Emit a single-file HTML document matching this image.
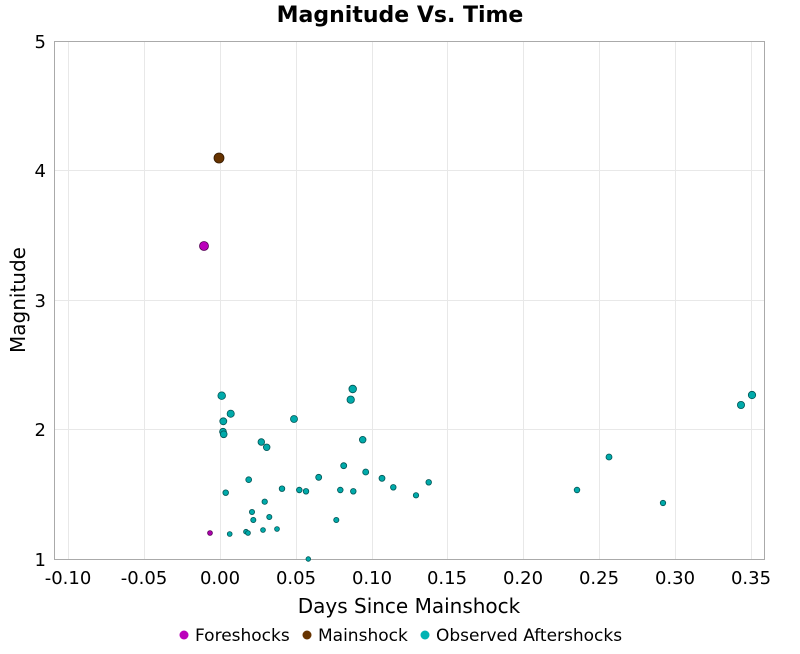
<!DOCTYPE html>
<html><head><meta charset="utf-8"><style>
body{margin:0;background:#fff;width:800px;height:650px;overflow:hidden;font-family:"DejaVu Sans","Liberation Sans",sans-serif}
</style></head><body>
<svg width="800" height="650" xmlns="http://www.w3.org/2000/svg" font-family="DejaVu Sans, Liberation Sans, sans-serif">
<text x="400" y="22" text-anchor="middle" font-size="22" font-weight="bold">Magnitude Vs. Time</text>
<g stroke="#e8e8e8" stroke-width="1">
<line x1="68.5" y1="41" x2="68.5" y2="559"/><line x1="144.5" y1="41" x2="144.5" y2="559"/>
<line x1="220.5" y1="41" x2="220.5" y2="559"/><line x1="296.5" y1="41" x2="296.5" y2="559"/>
<line x1="372.5" y1="41" x2="372.5" y2="559"/><line x1="447.5" y1="41" x2="447.5" y2="559"/>
<line x1="523.5" y1="41" x2="523.5" y2="559"/><line x1="599.5" y1="41" x2="599.5" y2="559"/>
<line x1="675.5" y1="41" x2="675.5" y2="559"/><line x1="751.5" y1="41" x2="751.5" y2="559"/>
<line x1="54" y1="429.5" x2="765" y2="429.5"/><line x1="54" y1="300.5" x2="765" y2="300.5"/>
<line x1="54" y1="170.5" x2="765" y2="170.5"/>
</g>
<rect x="54.5" y="41.5" width="710" height="518" fill="none" stroke="#aaa"/>
<g font-size="18" text-anchor="middle">
<text x="68" y="584">-0.10</text><text x="144" y="584">-0.05</text><text x="220" y="584">0.00</text>
<text x="296" y="584">0.05</text><text x="372" y="584">0.10</text><text x="447" y="584">0.15</text>
<text x="523" y="584">0.20</text><text x="599" y="584">0.25</text><text x="675" y="584">0.30</text>
<text x="751" y="584">0.35</text>
</g>
<g font-size="18" text-anchor="end">
<text x="46" y="566">1</text><text x="46" y="436">2</text><text x="46" y="307">3</text>
<text x="46" y="177">4</text><text x="46" y="48">5</text>
</g>
<text x="409" y="613" text-anchor="middle" font-size="20">Days Since Mainshock</text>
<text transform="translate(25,300) rotate(-90)" text-anchor="middle" font-size="20">Magnitude</text>
<g fill="#00aaaa" stroke="#005555" stroke-width="0.8">
<circle cx="221.7" cy="395.7" r="3.8"/><circle cx="230.7" cy="413.7" r="3.6"/><circle cx="223.3" cy="421.3" r="3.5"/>
<circle cx="223" cy="431.7" r="3.4"/><circle cx="223.7" cy="434.3" r="3.4"/><circle cx="261.3" cy="442" r="3.3"/>
<circle cx="266.7" cy="447.3" r="3.3"/><circle cx="294" cy="419" r="3.5"/><circle cx="352.7" cy="389" r="3.8"/>
<circle cx="350.7" cy="399.7" r="3.7"/><circle cx="362.7" cy="439.7" r="3.3"/><circle cx="343.7" cy="465.7" r="3"/>
<circle cx="365.7" cy="472" r="3"/><circle cx="318.7" cy="477.3" r="3"/><circle cx="382" cy="478.3" r="3"/>
<circle cx="428.7" cy="482.3" r="2.8"/><circle cx="393.3" cy="487.3" r="2.8"/><circle cx="416" cy="495.3" r="2.7"/>
<circle cx="248.7" cy="479.7" r="2.9"/><circle cx="225.7" cy="492.7" r="2.8"/><circle cx="282" cy="488.7" r="2.8"/>
<circle cx="299.3" cy="490" r="2.8"/><circle cx="306" cy="491.3" r="2.8"/><circle cx="340.3" cy="490" r="2.8"/>
<circle cx="353.3" cy="491.3" r="2.8"/><circle cx="264.7" cy="501.7" r="2.7"/><circle cx="252" cy="512" r="2.6"/>
<circle cx="253.3" cy="520" r="2.6"/><circle cx="269.3" cy="517" r="2.6"/><circle cx="336.3" cy="520" r="2.6"/>
<circle cx="229.7" cy="534" r="2.4"/><circle cx="246" cy="531.7" r="2.4"/><circle cx="248" cy="533" r="2.4"/>
<circle cx="263" cy="530" r="2.4"/><circle cx="277" cy="529" r="2.4"/><circle cx="308.3" cy="559" r="2.3"/>
<circle cx="577" cy="490" r="2.8"/><circle cx="609" cy="457" r="3"/><circle cx="663" cy="503" r="2.7"/>
<circle cx="741" cy="405" r="3.6"/><circle cx="752" cy="395" r="3.7"/>
</g>
<circle cx="210" cy="533" r="2.4" fill="#aa00aa" stroke="#550055" stroke-width="0.8"/>
<circle cx="204" cy="246" r="4.5" fill="#bb00bb" stroke="#550055" stroke-width="0.8"/>
<circle cx="219" cy="158" r="5" fill="#663300" stroke="#331900" stroke-width="0.8"/>
<g font-size="17">
<circle cx="184" cy="635" r="4.5" fill="#bb00bb"/><text x="195" y="641">Foreshocks</text>
<circle cx="307" cy="635" r="4.5" fill="#663300"/><text x="318" y="641">Mainshock</text>
<circle cx="425" cy="635" r="4.5" fill="#00b3b3"/><text x="436" y="641">Observed Aftershocks</text>
</g>
</svg>
</body></html>
